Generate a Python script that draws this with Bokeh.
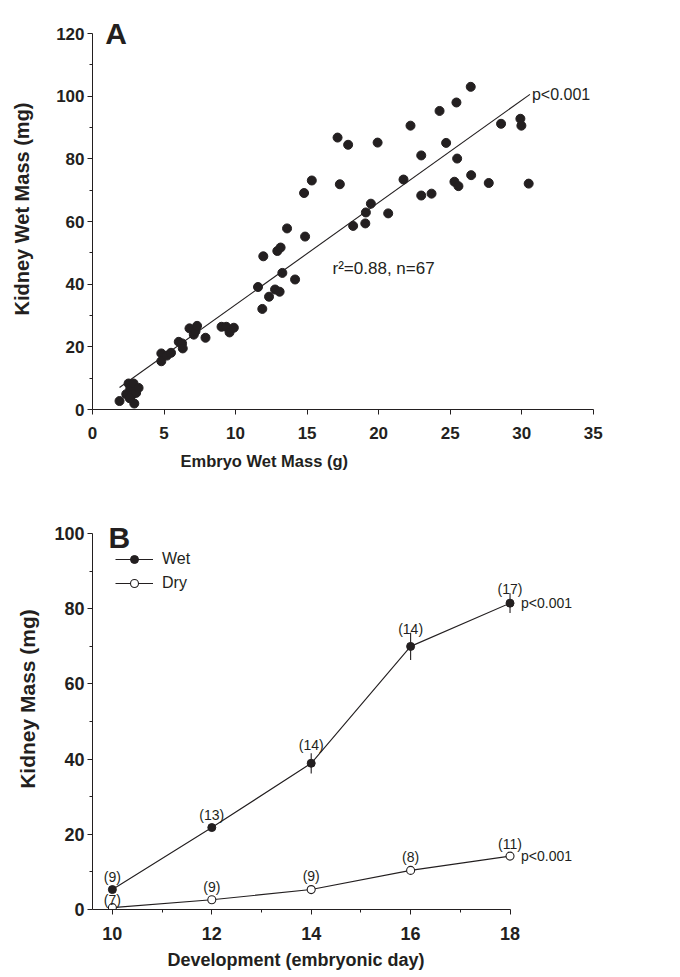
from bokeh.plotting import figure
from bokeh.models import FixedTicker, ColumnDataSource, Title, Legend, LegendItem, Range1d
from bokeh.layouts import column
from bokeh.embed import file_html
from bokeh.resources import INLINE
from bokeh.core.properties import value

# ---------------- Panel A data ----------------
embryo_mass = [1.89, 2.36, 2.52, 2.64, 2.75, 2.87, 2.92, 3.05, 3.22, 2.60,
               4.81, 4.81, 5.20, 5.49, 6.03, 6.26, 6.31, 6.78, 7.08, 7.20, 7.31, 7.90,
               9.02, 9.35, 9.58, 9.88,
               11.57, 11.87, 11.94, 12.34, 12.76, 12.92, 13.08, 13.15, 13.27, 13.60,
               14.16, 14.79, 14.86, 15.33,
               17.13, 17.29, 17.87, 18.22, 19.07, 19.11, 19.46, 19.93,
               20.67, 21.74, 22.23, 22.98, 22.98, 23.70, 24.26, 24.72, 25.30, 25.44,
               25.49, 25.58, 26.44, 26.47, 27.70, 28.56, 29.91, 29.98, 30.49]
kidney_wet = [2.7, 4.9, 8.3, 6.7, 4.6, 8.3, 1.9, 5.3, 6.9, 3.6,
              17.9, 15.4, 17.2, 18.1, 21.6, 21.1, 19.5, 25.9, 23.9, 25.0, 26.7, 22.9,
              26.4, 26.4, 24.6, 26.1,
              39.1, 32.1, 48.9, 36.0, 38.3, 50.6, 37.6, 51.7, 43.6, 57.8,
              41.5, 69.1, 55.2, 73.1,
              86.8, 71.9, 84.5, 58.6, 59.4, 62.9, 65.7, 85.2,
              62.6, 73.4, 90.6, 81.1, 68.3, 68.9, 95.3, 85.1, 72.7, 98.0,
              80.1, 71.3, 103.0, 74.8, 72.3, 91.2, 92.8, 90.6, 72.1]
fit_x = [1.89, 30.58]
fit_y = [7.0, 100.6]
a_xticks = [0, 5, 10, 15, 20, 25, 30, 35]
a_yticks = [0, 20, 40, 60, 80, 100, 120]
a_yminor = [10, 30, 50, 70, 90, 110]

# ---------------- Panel B data ----------------
days = [10, 12, 14, 16, 18]
wet = [5.3, 21.8, 38.9, 70.0, 81.5]
wet_err = [0.8, 0.9, 2.7, 3.6, 2.6]
dry = [0.5, 2.6, 5.3, 10.4, 14.2]
dry_err = [0.2, 0.3, 0.4, 0.5, 0.6]
wet_n = ["(9)", "(13)", "(14)", "(14)", "(17)"]
dry_n = ["(7)", "(9)", "(9)", "(8)", "(11)"]
b_xticks = [10, 12, 14, 16, 18]
b_xminor = [11, 13, 15, 17]
b_yticks = [0, 20, 40, 60, 80, 100]
b_yminor = [10, 30, 50, 70, 90]

# label offsets (style)
wet_n_off = [-5, -5, -10, -9, -6]
dry_n_off = [0, -5, -6, -5, -4]

INK = "#231f20"
FONT = "Liberation Sans"


def style_axis(ax, ticks, minor, tick_size, label_standoff, title_size, title_standoff):
    ax.ticker = FixedTicker(ticks=ticks, minor_ticks=minor)
    ax.axis_line_color = INK
    ax.axis_line_width = 1
    ax.major_tick_line_color = INK
    ax.minor_tick_line_color = INK
    ax.major_tick_out = 5
    ax.major_tick_in = 0
    ax.minor_tick_out = 3
    ax.minor_tick_in = 0
    ax.major_label_standoff = label_standoff
    ax.major_label_text_font = FONT
    ax.major_label_text_font_size = tick_size
    ax.major_label_text_font_style = "bold"
    ax.major_label_text_color = INK
    ax.axis_label_text_font = FONT
    ax.axis_label_text_font_size = title_size
    ax.axis_label_text_font_style = "bold"
    ax.axis_label_text_color = INK
    ax.axis_label_standoff = title_standoff


def base_fig(xr, yr, fw, fh, top, bottom):
    p = figure(x_range=xr, y_range=yr, frame_width=fw, frame_height=fh,
               min_border_left=92, min_border_right=10,
               min_border_top=top, min_border_bottom=bottom,
               output_backend="svg", toolbar_location=None)
    p.outline_line_color = None
    p.xgrid.visible = False
    p.ygrid.visible = False
    p.background_fill_color = "white"
    p.border_fill_color = "white"
    return p


# ---------------- Panel A ----------------
pa = base_fig(Range1d(0, 36), Range1d(0, 128), 515, 401, 8, 75)
style_axis(pa.xaxis[0], a_xticks, [], "17px", 12, "16.5px", 3)
style_axis(pa.yaxis[0], a_yticks, a_yminor, "17px", 3, "20px", 20)
pa.xaxis[0].bounds = (0, 35)
pa.yaxis[0].bounds = (0, 120)
pa.yaxis[0].axis_label = "Kidney Wet Mass (mg)"

pa.line(fit_x, fit_y, line_color=INK, line_width=1.1)
pa.scatter(embryo_mass, kidney_wet, size=9, fill_color=INK, line_color=INK)
pa.text(x=[fit_x[-1]], y=[fit_y[-1]], text=["p<0.001"], x_offset=2,
        text_align="left", text_baseline="middle", text_color=INK,
        text_font=value(FONT), text_font_size="16px")
pa.text(x=[16.78], y=[45.1], text=["r\u00b2=0.88, n=67"],
        text_align="left", text_baseline="middle", text_color=INK,
        text_font=value(FONT), text_font_size="17px")
pa.text(x=[0.89], y=[120.1], text=["A"], text_align="left",
        text_baseline="alphabetic", text_color=INK, text_font=value(FONT),
        text_font_size="30px", text_font_style="bold")
pa.add_layout(Title(text="Embryo Wet Mass (g)", align="left", offset=88,
                    text_font=FONT, text_font_size="16.5px", text_font_style="bold",
                    text_color=INK, standoff=17), "below")

# ---------------- Panel B ----------------
pb = base_fig(Range1d(9.6, 19.8), Range1d(0, 112), 507, 421, 4, 68)
style_axis(pb.xaxis[0], b_xticks, b_xminor, "18px", 12, "18px", 3)
style_axis(pb.yaxis[0], b_yticks, b_yminor, "18px", 3, "21px", 12)
pb.xaxis[0].bounds = (9.6, 18)
pb.yaxis[0].bounds = (0, 100)
pb.yaxis[0].axis_label = "Kidney Mass (mg)"

src_w = ColumnDataSource(dict(x=days, y=wet, lo=[v - e for v, e in zip(wet, wet_err)],
                              hi=[v + e for v, e in zip(wet, wet_err)], n=wet_n, off=wet_n_off))
src_d = ColumnDataSource(dict(x=days, y=dry, lo=[v - e for v, e in zip(dry, dry_err)],
                              hi=[v + e for v, e in zip(dry, dry_err)], n=dry_n, off=dry_n_off))

r_wl = pb.line("x", "y", source=src_w, line_color=INK, line_width=1.1)
r_dl = pb.line("x", "y", source=src_d, line_color=INK, line_width=1.1)
pb.segment(x0="x", y0="lo", x1="x", y1="hi", source=src_w, line_color=INK, line_width=1.1)
pb.segment(x0="x", y0="lo", x1="x", y1="hi", source=src_d, line_color=INK, line_width=1.1)
r_ws = pb.scatter("x", "y", source=src_w, size=8, fill_color=INK, line_color=INK)
r_ds = pb.scatter("x", "y", source=src_d, size=8, fill_color="white", line_color=INK,
                  line_width=1.1)

for src in (src_w, src_d):
    pb.text(x="x", y="y", text="n", y_offset="off", source=src, text_align="center",
            text_baseline="bottom", text_color=INK, text_font=value(FONT),
            text_font_size="14px")

pb.text(x=[days[-1], days[-1]], y=[wet[-1], dry[-1]], text=["p<0.001", "p<0.001"],
        x_offset=11, text_align="left", text_baseline="middle", text_color=INK,
        text_font=value(FONT), text_font_size="14px")
pb.text(x=[9.92], y=[98.96], text=["B"], text_align="left",
        text_baseline="alphabetic", text_color=INK, text_font=value(FONT),
        text_font_size="30px", text_font_style="bold")

legend = Legend(items=[LegendItem(label="Wet", renderers=[r_wl, r_ws]),
                       LegendItem(label="Dry", renderers=[r_dl, r_ds])],
                location=(23, 316), glyph_width=38, glyph_height=20,
                label_standoff=9, spacing=4, padding=0, margin=0,
                border_line_color=None, background_fill_alpha=0,
                label_text_font=FONT, label_text_font_size="16px",
                label_text_color=INK)
pb.add_layout(legend)

pb.add_layout(Title(text="Development (embryonic day)", align="left", offset=75,
                    text_font=FONT, text_font_size="18px", text_font_style="bold",
                    text_color=INK, standoff=11), "below")

layout = column(pa, pb, spacing=0)
open("out.html", "w").write(file_html(layout, INLINE))
